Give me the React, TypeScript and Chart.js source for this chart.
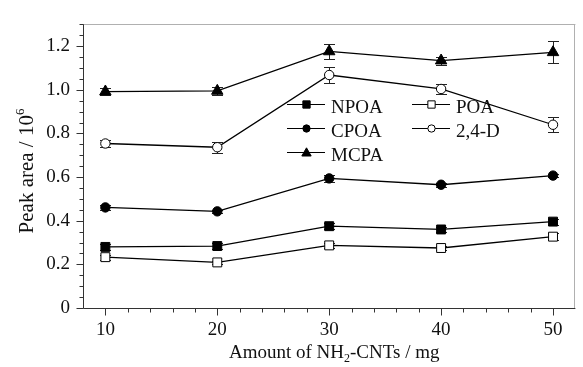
import React, { useEffect, useRef } from 'react';
import { Chart, registerables } from 'chart.js';

Chart.register(...registerables);

// ---- data ----
const amounts = [10, 20, 30, 40, 50];
const npoaValues = [0.280, 0.284, 0.375, 0.360, 0.396];
const npoaErrors = [0.012, 0.014, 0.015, 0.012, 0.014];
const poaValues = [0.233, 0.209, 0.287, 0.275, 0.327];
const poaErrors = [0.012, 0.008, 0.012, 0.010, 0.015];
const cpoaValues = [0.461, 0.443, 0.594, 0.565, 0.607];
const cpoaErrors = [0.010, 0.008, 0.015, 0.010, 0.008];
const d24Values = [0.754, 0.737, 1.068, 1.004, 0.840];
const d24Errors = [0.015, 0.025, 0.035, 0.022, 0.035];
const mcpaValues = [0.992, 0.995, 1.176, 1.134, 1.172];
const mcpaErrors = [0.016, 0.020, 0.035, 0.018, 0.050];

const xTickValues = [10, 20, 30, 40, 50];
const xTickLabels = ['10', '20', '30', '40', '50'];
const yTickValues = [0, 0.2, 0.4, 0.6, 0.8, 1.0, 1.2];
const yTickLabels = ['0', '0.2', '0.4', '0.6', '0.8', '1.0', '1.2'];

type Series = { name: string; values: number[]; errors: number[]; style: string; filled: boolean };
const series: Series[] = [
  { name: 'NPOA', values: npoaValues, errors: npoaErrors, style: 'rect', filled: true },
  { name: 'POA', values: poaValues, errors: poaErrors, style: 'rect', filled: false },
  { name: 'CPOA', values: cpoaValues, errors: cpoaErrors, style: 'circle', filled: true },
  { name: '2,4-D', values: d24Values, errors: d24Errors, style: 'circle', filled: false },
  { name: 'MCPA', values: mcpaValues, errors: mcpaErrors, style: 'triangle', filled: true },
];

const FONT = '"Liberation Serif", "Times New Roman", serif';
const FS = 19;

const radiusFor = (s: string) => (s === 'rect' ? 6.3 : s === 'triangle' ? 6.6 : 4.7);

function drawMarker(ctx: CanvasRenderingContext2D, style: string, filled: boolean, x: number, y: number, scale: number) {
  ctx.save();
  ctx.beginPath();
  if (style === 'rect') {
    const h = 4.3 * scale;
    ctx.rect(x - h, y - h, 2 * h, 2 * h);
  } else if (style === 'circle') {
    ctx.arc(x, y, 4.3 * scale, 0, Math.PI * 2);
  } else {
    const h = 5.5 * scale;
    ctx.moveTo(x, y - h);
    ctx.lineTo(x + h, y + h * 0.75);
    ctx.lineTo(x - h, y + h * 0.75);
    ctx.closePath();
  }
  ctx.fillStyle = filled ? '#000' : '#fff';
  ctx.fill();
  ctx.lineWidth = 1;
  ctx.strokeStyle = '#000';
  ctx.stroke();
  ctx.restore();
}

type Seg = { t: string; sub?: boolean; sup?: boolean };
function drawRich(ctx: CanvasRenderingContext2D, segs: Seg[], cx: number, baseline: number, size: number) {
  const widths = segs.map((s) => {
    ctx.font = `${s.sub || s.sup ? Math.round(size * 0.62) : size}px ${FONT}`;
    return ctx.measureText(s.t).width;
  });
  const total = widths.reduce((a, b) => a + b, 0);
  let x = cx - total / 2;
  ctx.textAlign = 'left';
  ctx.textBaseline = 'alphabetic';
  segs.forEach((s, i) => {
    ctx.font = `${s.sub || s.sup ? Math.round(size * 0.62) : size}px ${FONT}`;
    const dy = s.sub ? size * 0.22 : s.sup ? -size * 0.42 : 0;
    ctx.fillText(s.t, x, baseline + dy);
    x += widths[i];
  });
}

const errorBarPlugin = {
  id: 'errorBars',
  beforeDatasetsDraw(chart: any) {
    const { ctx, scales } = chart;
    const xs = scales.x;
    const ys = scales.y;
    ctx.save();
    ctx.strokeStyle = '#222';
    ctx.lineWidth = 1;
    series.forEach((s) => {
      s.values.forEach((v, j) => {
        const px = Math.round(xs.getPixelForValue(amounts[j])) + 0.5;
        const top = Math.round(ys.getPixelForValue(v + s.errors[j])) + 0.5;
        const bot = Math.round(ys.getPixelForValue(v - s.errors[j])) + 0.5;
        ctx.beginPath();
        ctx.moveTo(px, top);
        ctx.lineTo(px, bot);
        ctx.moveTo(px - 5.5, top);
        ctx.lineTo(px + 5.5, top);
        ctx.moveTo(px - 5.5, bot);
        ctx.lineTo(px + 5.5, bot);
        ctx.stroke();
      });
    });
    ctx.restore();
  },
};

const decorPlugin = {
  id: 'decor',
  afterDraw(chart: any) {
    const { ctx, chartArea, scales } = chart;
    const { left, right, top, bottom } = chartArea;
    const xs = scales.x;
    const ys = scales.y;
    ctx.save();
    // frame
    ctx.lineWidth = 1;
    ctx.strokeStyle = '#b0b0b0';
    ctx.beginPath();
    ctx.moveTo(left, Math.round(top) + 0.5);
    ctx.lineTo(right, Math.round(top) + 0.5);
    ctx.moveTo(Math.round(right) - 0.5, top);
    ctx.lineTo(Math.round(right) - 0.5, bottom);
    ctx.stroke();
    ctx.strokeStyle = '#333';
    const L = Math.round(left) + 0.5;
    const B = Math.round(bottom) + 0.5;
    ctx.beginPath();
    ctx.moveTo(L, top);
    ctx.lineTo(L, B);
    ctx.lineTo(right, B);
    ctx.stroke();
    // y ticks (major every 0.2, minor every 0.05)
    ctx.beginPath();
    for (let k = 0; k <= 26; k++) {
      const py = Math.round(ys.getPixelForValue(k * 0.05)) + 0.5;
      const len = k % 4 === 0 ? 7 : 4;
      ctx.moveTo(L - len, py);
      ctx.lineTo(L, py);
    }
    // x ticks (major every 10, minor every 2)
    for (let m = 10; m < 52; m += 2) {
      const px = Math.round(xs.getPixelForValue(m)) + 0.5;
      const len = m % 10 === 0 ? 7 : 4;
      ctx.moveTo(px, B);
      ctx.lineTo(px, B + len);
    }
    ctx.stroke();

    // axis titles
    ctx.fillStyle = '#111';
    drawRich(ctx, [{ t: 'Amount of NH' }, { t: '2', sub: true }, { t: '-CNTs / mg' }], (left + right) / 2 + 5, 358, FS);
    ctx.save();
    ctx.translate(33, 171);
    ctx.rotate(-Math.PI / 2);
    drawRich(ctx, [{ t: 'Peak area / 10' }, { t: '6', sup: true }], 0, 0, 21);
    ctx.restore();

    // legend
    const cols = [287, 412];
    const rows = [104, 128, 152];
    series.forEach((s, i) => {
      const cx = cols[i % 2];
      const ry = rows[Math.floor(i / 2)];
      ctx.strokeStyle = '#000';
      ctx.lineWidth = 1.2;
      ctx.beginPath();
      ctx.moveTo(cx, ry + 0.5);
      ctx.lineTo(cx + 38, ry + 0.5);
      ctx.stroke();
      drawMarker(ctx, s.style, s.filled, cx + 19.5, ry + 0.5, 0.85);
      ctx.fillStyle = '#111';
      ctx.font = `${FS}px ${FONT}`;
      ctx.textAlign = 'left';
      ctx.textBaseline = 'alphabetic';
      ctx.fillText(s.name, cx + 44, ry + 9);
    });
    ctx.restore();
  },
};

export default function App() {
  const ref = useRef<HTMLCanvasElement | null>(null);
  useEffect(() => {
    document.body.style.margin = '0';
    const canvas = ref.current;
    if (!canvas) return;
    const chart = new Chart(canvas, {
      type: 'line',
      data: {
        datasets: series.map((s) => ({
          label: s.name,
          data: amounts.map((a, j) => ({ x: a, y: s.values[j] })),
          borderColor: '#000',
          borderWidth: 1.3,
          pointStyle: s.style as any,
          pointRadius: radiusFor(s.style),
          pointHoverRadius: radiusFor(s.style),
          pointBackgroundColor: s.filled ? '#000' : '#fff',
          pointBorderColor: '#000',
          pointBorderWidth: 1,
          tension: 0,
          fill: false,
        })),
      },
      options: {
        animation: false,
        responsive: false,
        maintainAspectRatio: false,
        devicePixelRatio: 1,
        layout: { padding: { top: 12, right: 1, left: 0, bottom: 0 } },
        plugins: { legend: { display: false }, tooltip: { enabled: false }, title: { display: false } },
        scales: {
          x: {
            type: 'linear',
            min: 8,
            max: 52,
            afterBuildTicks: (scale: any) => {
              scale.ticks = xTickValues.map((v) => ({ value: v }));
            },
            afterFit: (scale: any) => {
              scale.height = 59;
            },
            grid: { display: false, drawTicks: false },
            border: { display: false },
            ticks: {
              padding: 11,
              color: '#111',
              font: { family: FONT, size: FS },
              maxRotation: 0,
              autoSkip: false,
              callback: (v: any) => {
                const i = xTickValues.indexOf(Number(v));
                return i >= 0 ? xTickLabels[i] : '';
              },
            },
          },
          y: {
            type: 'linear',
            min: 0,
            max: 1.3,
            afterBuildTicks: (scale: any) => {
              scale.ticks = yTickValues.map((v) => ({ value: v }));
            },
            afterFit: (scale: any) => {
              scale.width = 83;
            },
            grid: { display: false, drawTicks: false },
            border: { display: false },
            ticks: {
              padding: 13,
              color: '#111',
              font: { family: FONT, size: FS },
              autoSkip: false,
              callback: (v: any) => {
                const i = yTickValues.findIndex((t) => Math.abs(t - Number(v)) < 1e-6);
                return i >= 0 ? yTickLabels[i] : '';
              },
            },
          },
        },
      } as any,
      plugins: [errorBarPlugin, decorPlugin],
    });
    return () => chart.destroy();
  }, []);
  return (
    <div style={{ width: 583, height: 367, background: '#fff' }}>
      <canvas ref={ref} width={583} height={367} style={{ display: 'block' }} />
    </div>
  );
}
